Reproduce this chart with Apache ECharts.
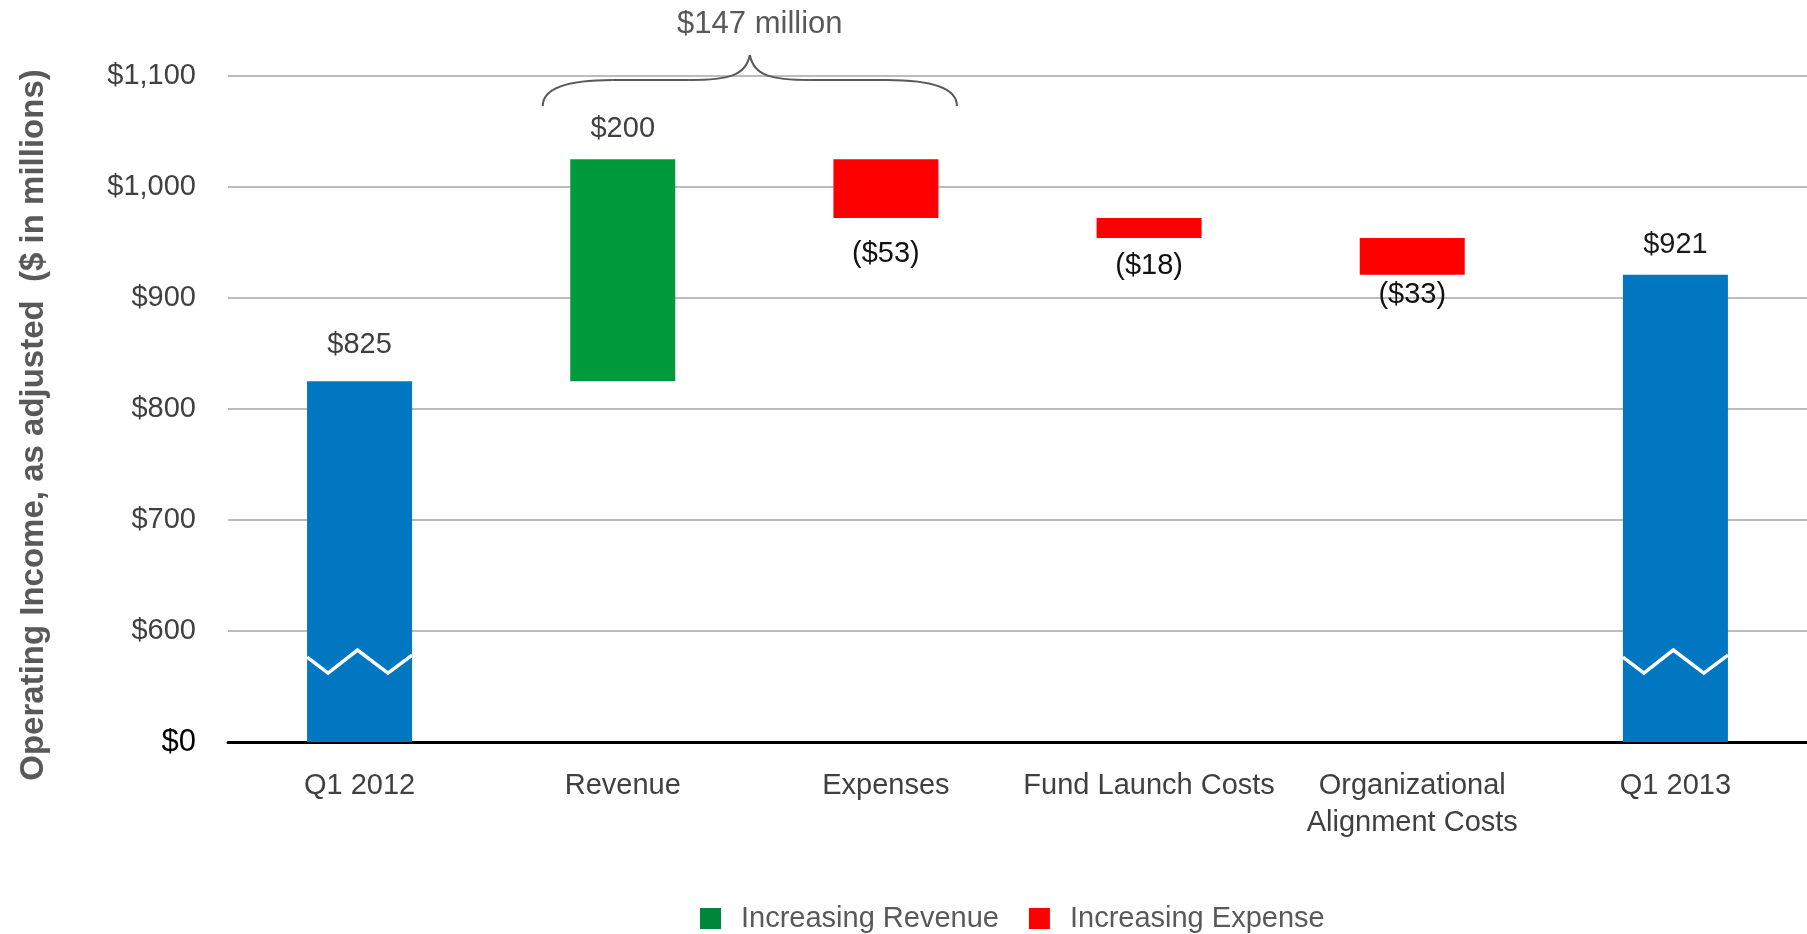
<!DOCTYPE html>
<html>
<head>
<meta charset="utf-8">
<title>Operating Income, as adjusted</title>
<script src="https://cdn.jsdelivr.net/npm/echarts@6/dist/echarts.min.js"></script>
<style>
html, body { margin: 0; padding: 0; background: #fff; }
#main { width: 1807px; height: 934px; }
</style>
</head>
<body>
<div id="main"></div>
<script>
// chart data
var categories = ['Q1 2012', 'Revenue', 'Expenses', 'Fund Launch Costs', 'Organizational\nAlignment Costs', 'Q1 2013'];
var startValue = 825;
var endValue = 921;
// changes from Q1 2012 to Q1 2013 (positive = revenue, negative = expense)
var changes = [200, -53, -18, -33];
var yTickLabels = ['$0', '$600', '$700', '$800', '$900', '$1,000', '$1,100'];
var yTitle = 'Operating Income, as adjusted  ($ in millions)';
var braceText = '$147 million';
var breakValue = 572; // where the axis break zigzag sits on the total bars

var font = '"Liberation Sans", Arial, sans-serif';
var barWidth = 105;

// build the waterfall: invisible base + visible pieces, all in one stack
var base = [0];
var revenueBars = ['-'];
var expenseBars = ['-'];
var running = startValue;
changes.forEach(function (c) {
  if (c > 0) {
    base.push(running);
    revenueBars.push(c);
    expenseBars.push('-');
  } else {
    base.push(running + c);
    revenueBars.push('-');
    expenseBars.push(-c);
  }
  running += c;
});
base.push(0);
revenueBars.push('-');
expenseBars.push('-');
var totals = [startValue].concat(changes.map(function () { return '-'; }), [endValue]);

// label tweaks per bar
var totalLabel = [{ distance: 22, color: '#404040' }, null, null, null, null, { distance: 15, color: '#1a1a1a' }];
var expenseDist = [null, null, 21, 13, 6, null];

var chart = echarts.init(document.getElementById('main'));

chart.setOption({
  animation: false,
  textStyle: { fontFamily: font },
  grid: { left: 228, right: 0, top: 76, bottom: 192 },
  legend: {
    data: [
      { name: 'Increasing Revenue', itemStyle: { color: '#00873d' } },
      { name: 'Increasing Expense', itemStyle: { color: '#ff0000' } }
    ],
    left: 695,
    top: 899,
    icon: 'rect',
    itemWidth: 21,
    itemHeight: 21,
    itemGap: 30,
    textStyle: { fontSize: 29, color: '#595959', fontFamily: font, padding: [0, 0, 0, 15] }
  },
  xAxis: {
    type: 'category',
    data: categories,
    axisTick: { show: false },
    axisLine: { lineStyle: { color: '#000', width: 3 } },
    axisLabel: { interval: 0, margin: 25, fontSize: 29, lineHeight: 37, color: '#404040', fontFamily: font }
  },
  yAxis: {
    type: 'value',
    min: 500,
    max: 1100,
    interval: 100,
    axisLine: { show: false },
    axisTick: { show: false },
    splitLine: { lineStyle: { color: '#a6a6a6', width: 1.5 } },
    axisLabel: {
      margin: 32,
      fontSize: 29,
      color: '#404040',
      fontFamily: font,
      formatter: function (v, i) {
        return i === 0 ? '{zero|' + yTickLabels[0] + '}' : yTickLabels[i];
      },
      rich: { zero: { fontSize: 31, color: '#000', fontFamily: font } }
    }
  },
  series: [
    {
      name: 'base',
      type: 'bar',
      stack: 'w',
      barWidth: barWidth,
      silent: true,
      itemStyle: { color: 'transparent' },
      data: base
    },
    {
      name: 'Total',
      type: 'bar',
      stack: 'w',
      barWidth: barWidth,
      itemStyle: { color: '#0077c0' },
      data: totals.map(function (v, i) {
        if (v === '-') return v;
        return {
          value: v,
          label: { show: true, position: 'top', distance: totalLabel[i].distance, color: totalLabel[i].color }
        };
      }),
      label: { fontSize: 29, fontFamily: font, formatter: function (p) { return '$' + p.value; } }
    },
    {
      name: 'Increasing Revenue',
      type: 'bar',
      stack: 'w',
      barWidth: barWidth,
      itemStyle: { color: '#009a3d' },
      data: revenueBars,
      label: {
        show: true, position: 'top', distance: 16, fontSize: 29, color: '#404040', fontFamily: font,
        formatter: function (p) { return '$' + p.value; }
      }
    },
    {
      name: 'Increasing Expense',
      type: 'bar',
      stack: 'w',
      barWidth: barWidth,
      itemStyle: { color: '#ff0000' },
      data: expenseBars.map(function (v, i) {
        if (v === '-') return v;
        return { value: v, label: { show: true, position: 'bottom', distance: expenseDist[i] } };
      }),
      label: { fontSize: 29, color: '#111', fontFamily: font, formatter: function (p) { return '($' + p.value + ')'; } }
    },
    {
      // axis break marks drawn across the two total bars
      name: 'break',
      type: 'custom',
      silent: true,
      z: 5,
      data: [[0, breakValue], [categories.length - 1, breakValue]],
      renderItem: function (params, api) {
        var p = api.coord([api.value(0), api.value(1)]);
        var x0 = p[0] - barWidth / 2;
        var zig = [[0, -5], [0.2, 11], [0.48, -12], [0.77, 11], [1, -7]];
        return {
          type: 'polyline',
          shape: { points: zig.map(function (z) { return [x0 + z[0] * barWidth, p[1] + z[1]]; }) },
          style: { stroke: '#fff', lineWidth: 3.5, fill: null }
        };
      }
    }
  ]
});

// brace over Revenue + Expenses with the net change
var rx = chart.convertToPixel({ xAxisIndex: 0 }, categories[1]);
var ex = chart.convertToPixel({ xAxisIndex: 0 }, categories[2]);
var L = rx - 80, R = ex + 71, M = (L + R) / 2;
var braceStyle = { stroke: '#595959', lineWidth: 2, fill: null };

chart.setOption({
  graphic: [
    { type: 'bezierCurve', shape: { x1: L, y1: 106, cpx1: L, cpy1: 88, cpx2: L + 25, cpy2: 80, x2: L + 70, y2: 80 }, style: braceStyle },
    { type: 'line', shape: { x1: L + 70, y1: 80, x2: M - 60, y2: 80 }, style: braceStyle },
    { type: 'bezierCurve', shape: { x1: M - 60, y1: 80, cpx1: M - 22, cpy1: 80, cpx2: M - 4, cpy2: 76, x2: M, y2: 55 }, style: braceStyle },
    { type: 'bezierCurve', shape: { x1: M, y1: 55, cpx1: M + 4, cpy1: 76, cpx2: M + 22, cpy2: 80, x2: M + 60, y2: 80 }, style: braceStyle },
    { type: 'line', shape: { x1: M + 60, y1: 80, x2: R - 70, y2: 80 }, style: braceStyle },
    { type: 'bezierCurve', shape: { x1: R - 70, y1: 80, cpx1: R - 25, cpy1: 80, cpx2: R, cpy2: 88, x2: R, y2: 106 }, style: braceStyle },
    {
      type: 'text',
      x: M + 10,
      y: 24,
      style: { text: braceText, fontSize: 31, fill: '#595959', fontFamily: font, align: 'center', verticalAlign: 'middle' }
    },
    {
      // y axis title
      type: 'text',
      x: 34,
      y: 425,
      rotation: Math.PI / 2,
      style: { text: yTitle, fontSize: 33, fontWeight: 'bold', fill: '#595959', fontFamily: font, align: 'center', verticalAlign: 'middle' }
    }
  ]
});
</script>
</body>
</html>
